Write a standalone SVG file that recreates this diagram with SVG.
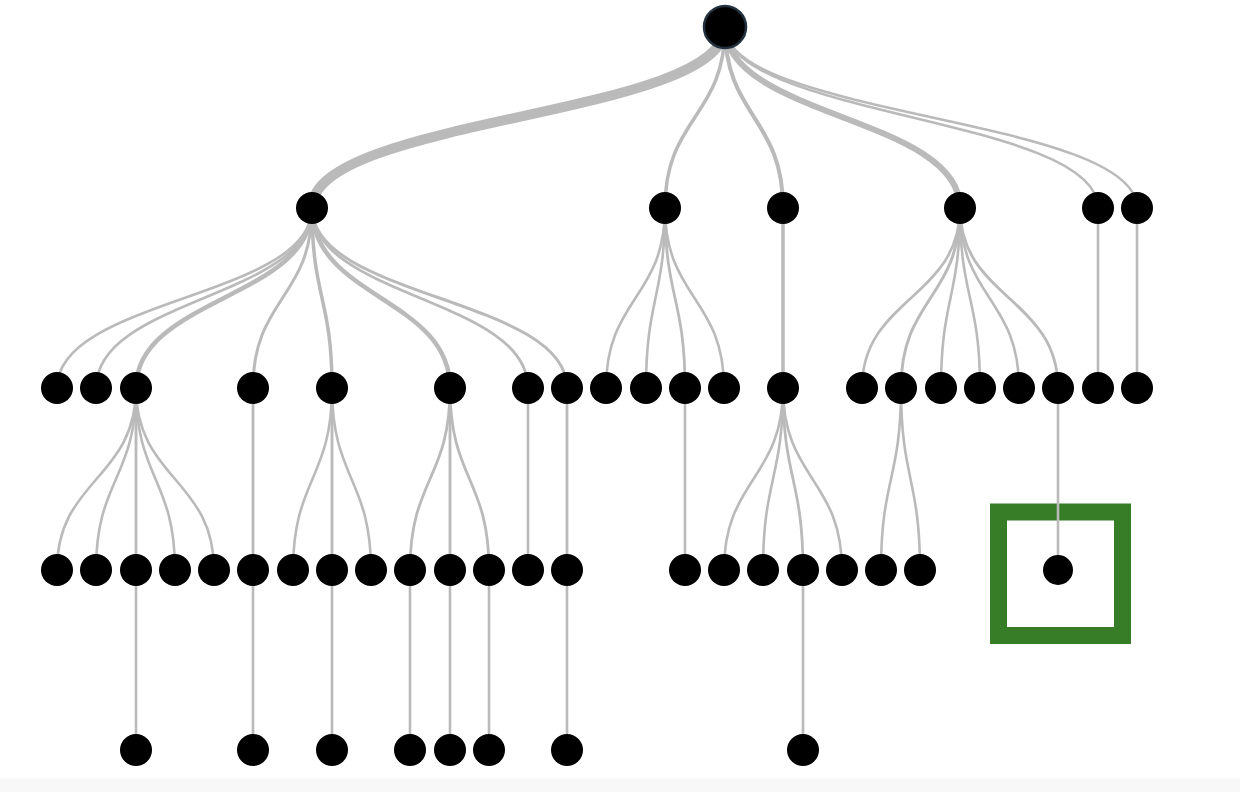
<svg xmlns="http://www.w3.org/2000/svg" width="1240" height="792" viewBox="0 0 1240 792">
<style>
.l{fill:none;stroke:#bababa;stroke-linecap:round}
.n{fill:#000}
.r{fill:#000;stroke:#22313d;stroke-width:2.5}
</style>
<rect x="0" y="0" width="1240" height="792" fill="#ffffff"/>
<rect x="0" y="778" width="1240" height="14" fill="#f8f8f8"/>
<g id="highlight">
<rect x="998.5" y="512" width="124" height="123.5" fill="none" stroke="#377c26" stroke-width="17"/>
</g>
<g id="connectors">
<path class="l" style="stroke-width:10" d="M725,27 C725,117 312,117 312,208"/>
<path class="l" style="stroke-width:3.5" d="M725,27 C725,117 665,117 665,208"/>
<path class="l" style="stroke-width:4" d="M725,27 C725,117 783,117 783,208"/>
<path class="l" style="stroke-width:6" d="M725,27 C725,117 960,117 960,208"/>
<path class="l" style="stroke-width:2.6" d="M725,27 C725,117 1098,117 1098,208"/>
<path class="l" style="stroke-width:2.6" d="M725,27 C725,117 1137,117 1137,208"/>
<path class="l" style="stroke-width:2.6" d="M312,208 C312,298 57,298 57,388"/>
<path class="l" style="stroke-width:2.6" d="M312,208 C312,298 96,298 96,388"/>
<path class="l" style="stroke-width:4.5" d="M312,208 C312,298 136,298 136,388"/>
<path class="l" style="stroke-width:3" d="M312,208 C312,298 253,298 253,388"/>
<path class="l" style="stroke-width:3.5" d="M312,208 C312,298 332,298 332,388"/>
<path class="l" style="stroke-width:4.5" d="M312,208 C312,298 450,298 450,388"/>
<path class="l" style="stroke-width:2.8" d="M312,208 C312,298 528,298 528,388"/>
<path class="l" style="stroke-width:3" d="M312,208 C312,298 567,298 567,388"/>
<path class="l" style="stroke-width:2.6" d="M665,208 C665,298 606,298 606,388"/>
<path class="l" style="stroke-width:2.6" d="M665,208 C665,298 646,298 646,388"/>
<path class="l" style="stroke-width:2.8" d="M665,208 C665,298 685,298 685,388"/>
<path class="l" style="stroke-width:2.6" d="M665,208 C665,298 724,298 724,388"/>
<path class="l" style="stroke-width:3.5" d="M783,208 L783,388"/>
<path class="l" style="stroke-width:2.6" d="M960,208 C960,298 862,298 862,388"/>
<path class="l" style="stroke-width:3" d="M960,208 C960,298 901,298 901,388"/>
<path class="l" style="stroke-width:2.6" d="M960,208 C960,298 941,298 941,388"/>
<path class="l" style="stroke-width:2.6" d="M960,208 C960,298 980,298 980,388"/>
<path class="l" style="stroke-width:2.6" d="M960,208 C960,298 1019,298 1019,388"/>
<path class="l" style="stroke-width:2.8" d="M960,208 C960,298 1058,298 1058,388"/>
<path class="l" style="stroke-width:2.6" d="M1098,208 L1098,388"/>
<path class="l" style="stroke-width:2.6" d="M1137,208 L1137,388"/>
<path class="l" style="stroke-width:2.6" d="M136,388 C136,479 57,479 57,570"/>
<path class="l" style="stroke-width:2.6" d="M136,388 C136,479 96,479 96,570"/>
<path class="l" style="stroke-width:2.8" d="M136,388 C136,479 136,479 136,570"/>
<path class="l" style="stroke-width:2.6" d="M136,388 C136,479 175,479 175,570"/>
<path class="l" style="stroke-width:2.6" d="M136,388 C136,479 214,479 214,570"/>
<path class="l" style="stroke-width:2.8" d="M253,388 L253,570"/>
<path class="l" style="stroke-width:2.6" d="M332,388 C332,479 293,479 293,570"/>
<path class="l" style="stroke-width:2.8" d="M332,388 C332,479 332,479 332,570"/>
<path class="l" style="stroke-width:2.6" d="M332,388 C332,479 371,479 371,570"/>
<path class="l" style="stroke-width:2.8" d="M450,388 C450,479 410,479 410,570"/>
<path class="l" style="stroke-width:2.8" d="M450,388 C450,479 450,479 450,570"/>
<path class="l" style="stroke-width:2.8" d="M450,388 C450,479 489,479 489,570"/>
<path class="l" style="stroke-width:2.6" d="M528,388 L528,570"/>
<path class="l" style="stroke-width:2.8" d="M567,388 L567,570"/>
<path class="l" style="stroke-width:2.6" d="M685,388 L685,570"/>
<path class="l" style="stroke-width:2.6" d="M783,388 C783,479 724,479 724,570"/>
<path class="l" style="stroke-width:2.6" d="M783,388 C783,479 763,479 763,570"/>
<path class="l" style="stroke-width:2.8" d="M783,388 C783,479 803,479 803,570"/>
<path class="l" style="stroke-width:2.6" d="M783,388 C783,479 842,479 842,570"/>
<path class="l" style="stroke-width:2.6" d="M901,388 C901,479 881,479 881,570"/>
<path class="l" style="stroke-width:2.6" d="M901,388 C901,479 920,479 920,570"/>
<path class="l" style="stroke-width:2.6" d="M1058,388 L1058,570"/>
<path class="l" style="stroke-width:2.6" d="M136,570 L136,750"/>
<path class="l" style="stroke-width:2.6" d="M253,570 L253,750"/>
<path class="l" style="stroke-width:2.6" d="M332,570 L332,750"/>
<path class="l" style="stroke-width:2.6" d="M410,570 L410,750"/>
<path class="l" style="stroke-width:2.6" d="M450,570 L450,750"/>
<path class="l" style="stroke-width:2.6" d="M489,570 L489,750"/>
<path class="l" style="stroke-width:2.6" d="M567,570 L567,750"/>
<path class="l" style="stroke-width:2.6" d="M803,570 L803,750"/>
</g>
<g id="root"><circle class="r" cx="725" cy="27" r="21"/></g>
<g id="level1">
<g id="n1a"><circle class="n" cx="312" cy="208" r="16"/></g>
<g id="n1b"><circle class="n" cx="665" cy="208" r="16"/></g>
<g id="n1c"><circle class="n" cx="783" cy="208" r="16"/></g>
<g id="n1d"><circle class="n" cx="960" cy="208" r="16"/></g>
<g id="n1e"><circle class="n" cx="1098" cy="208" r="16"/></g>
<g id="n1f"><circle class="n" cx="1137" cy="208" r="16"/></g>
</g>
<g id="level2">
<g id="n2a"><circle class="n" cx="57" cy="388" r="16"/></g>
<g id="n2b"><circle class="n" cx="96" cy="388" r="16"/></g>
<g id="n2c"><circle class="n" cx="136" cy="388" r="16"/></g>
<g id="n2d"><circle class="n" cx="253" cy="388" r="16"/></g>
<g id="n2e"><circle class="n" cx="332" cy="388" r="16"/></g>
<g id="n2f"><circle class="n" cx="450" cy="388" r="16"/></g>
<g id="n2g"><circle class="n" cx="528" cy="388" r="16"/></g>
<g id="n2h"><circle class="n" cx="567" cy="388" r="16"/></g>
<g id="n2i"><circle class="n" cx="606" cy="388" r="16"/></g>
<g id="n2j"><circle class="n" cx="646" cy="388" r="16"/></g>
<g id="n2k"><circle class="n" cx="685" cy="388" r="16"/></g>
<g id="n2l"><circle class="n" cx="724" cy="388" r="16"/></g>
<g id="n2m"><circle class="n" cx="783" cy="388" r="16"/></g>
<g id="n2n"><circle class="n" cx="862" cy="388" r="16"/></g>
<g id="n2o"><circle class="n" cx="901" cy="388" r="16"/></g>
<g id="n2p"><circle class="n" cx="941" cy="388" r="16"/></g>
<g id="n2q"><circle class="n" cx="980" cy="388" r="16"/></g>
<g id="n2r"><circle class="n" cx="1019" cy="388" r="16"/></g>
<g id="n2s"><circle class="n" cx="1058" cy="388" r="16"/></g>
<g id="n2t"><circle class="n" cx="1098" cy="388" r="16"/></g>
<g id="n2u"><circle class="n" cx="1137" cy="388" r="16"/></g>
</g>
<g id="level3">
<g id="n3a"><circle class="n" cx="57" cy="570" r="16"/></g>
<g id="n3b"><circle class="n" cx="96" cy="570" r="16"/></g>
<g id="n3c"><circle class="n" cx="136" cy="570" r="16"/></g>
<g id="n3d"><circle class="n" cx="175" cy="570" r="16"/></g>
<g id="n3e"><circle class="n" cx="214" cy="570" r="16"/></g>
<g id="n3f"><circle class="n" cx="253" cy="570" r="16"/></g>
<g id="n3g"><circle class="n" cx="293" cy="570" r="16"/></g>
<g id="n3h"><circle class="n" cx="332" cy="570" r="16"/></g>
<g id="n3i"><circle class="n" cx="371" cy="570" r="16"/></g>
<g id="n3j"><circle class="n" cx="410" cy="570" r="16"/></g>
<g id="n3k"><circle class="n" cx="450" cy="570" r="16"/></g>
<g id="n3l"><circle class="n" cx="489" cy="570" r="16"/></g>
<g id="n3m"><circle class="n" cx="528" cy="570" r="16"/></g>
<g id="n3n"><circle class="n" cx="567" cy="570" r="16"/></g>
<g id="n3o"><circle class="n" cx="685" cy="570" r="16"/></g>
<g id="n3p"><circle class="n" cx="724" cy="570" r="16"/></g>
<g id="n3q"><circle class="n" cx="763" cy="570" r="16"/></g>
<g id="n3r"><circle class="n" cx="803" cy="570" r="16"/></g>
<g id="n3s"><circle class="n" cx="842" cy="570" r="16"/></g>
<g id="n3t"><circle class="n" cx="881" cy="570" r="16"/></g>
<g id="n3u"><circle class="n" cx="920" cy="570" r="16"/></g>
<g id="n3v"><circle class="n" cx="1058" cy="570" r="15"/></g>
</g>
<g id="level4">
<g id="n4a"><circle class="n" cx="136" cy="750" r="16"/></g>
<g id="n4b"><circle class="n" cx="253" cy="750" r="16"/></g>
<g id="n4c"><circle class="n" cx="332" cy="750" r="16"/></g>
<g id="n4d"><circle class="n" cx="410" cy="750" r="16"/></g>
<g id="n4e"><circle class="n" cx="450" cy="750" r="16"/></g>
<g id="n4f"><circle class="n" cx="489" cy="750" r="16"/></g>
<g id="n4g"><circle class="n" cx="567" cy="750" r="16"/></g>
<g id="n4h"><circle class="n" cx="803" cy="750" r="16"/></g>
</g>
</svg>
